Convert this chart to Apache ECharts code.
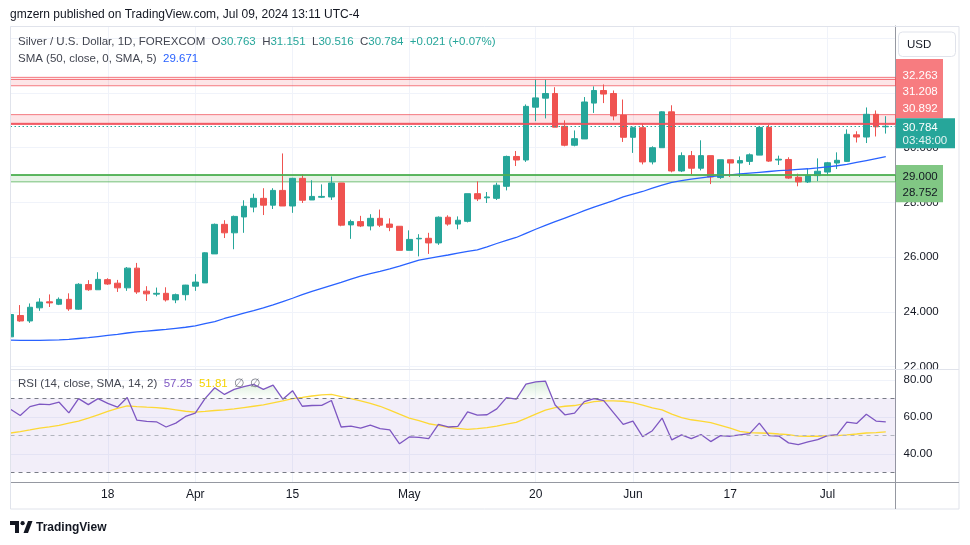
<!DOCTYPE html>
<html><head><meta charset="utf-8">
<script src="https://cdn.jsdelivr.net/npm/echarts@6/dist/echarts.min.js"></script>
<style>html,body{margin:0;padding:0;background:#fff}#c{width:970px;height:545px}</style>
</head><body><div id="c"></div>
<script>
const dates = [
'2024-03-04','2024-03-05','2024-03-06','2024-03-07','2024-03-08','2024-03-11','2024-03-12','2024-03-13','2024-03-14','2024-03-15',
'2024-03-18','2024-03-19','2024-03-20','2024-03-21','2024-03-22','2024-03-25','2024-03-26','2024-03-27','2024-03-28',
'2024-04-01','2024-04-02','2024-04-03','2024-04-04','2024-04-05','2024-04-08','2024-04-09','2024-04-10','2024-04-11','2024-04-12',
'2024-04-15','2024-04-16','2024-04-17','2024-04-18','2024-04-19','2024-04-22','2024-04-23','2024-04-24','2024-04-25','2024-04-26',
'2024-04-29','2024-04-30','2024-05-01','2024-05-02','2024-05-03','2024-05-06','2024-05-07','2024-05-08','2024-05-09','2024-05-10',
'2024-05-13','2024-05-14','2024-05-15','2024-05-16','2024-05-17','2024-05-20','2024-05-21','2024-05-22','2024-05-23','2024-05-24',
'2024-05-27','2024-05-28','2024-05-29','2024-05-30','2024-05-31','2024-06-03','2024-06-04','2024-06-05','2024-06-06','2024-06-07',
'2024-06-10','2024-06-11','2024-06-12','2024-06-13','2024-06-14','2024-06-17','2024-06-18','2024-06-19','2024-06-20','2024-06-21',
'2024-06-24','2024-06-25','2024-06-26','2024-06-27','2024-06-28','2024-07-01','2024-07-02','2024-07-03','2024-07-04','2024-07-05',
'2024-07-08','2024-07-09'];
const open = [23.09,23.87,23.67,24.15,24.37,24.28,24.46,24.10,25.00,24.81,
25.18,25.05,24.88,25.60,24.76,24.65,24.68,24.44,24.63,
24.94,25.06,26.12,27.20,26.89,27.47,27.83,28.15,27.90,28.44,
27.87,28.88,28.09,28.19,28.20,28.71,27.18,27.30,27.14,27.42,
27.21,27.13,26.25,26.67,26.69,26.52,27.46,27.21,27.31,28.32,
28.17,28.15,28.59,29.68,29.55,31.48,31.81,31.98,30.78,30.09,
30.32,31.63,32.09,31.98,31.19,30.38,30.73,29.48,30.00,31.31,
29.15,29.71,29.25,29.71,28.91,29.56,29.44,29.50,29.73,30.74,
29.55,29.57,28.92,28.75,28.98,29.11,29.44,29.50,30.47,30.39,
31.22,30.763];
const close = [23.905,23.67,24.17,24.36,24.33,24.46,24.11,25.01,24.81,25.19,
25.02,24.88,25.60,24.73,24.66,24.68,24.44,24.63,24.98,
25.09,26.16,27.20,26.89,27.49,27.86,28.15,27.90,28.44,27.87,
28.88,28.08,28.22,28.22,28.71,27.17,27.30,27.14,27.42,27.17,
27.09,26.25,26.65,26.69,26.52,27.46,27.21,27.35,28.32,28.13,
28.20,28.63,29.68,29.55,31.51,31.82,31.98,30.75,30.09,30.33,
31.67,32.09,31.96,31.16,30.38,30.73,29.48,30.00,31.31,29.15,
29.71,29.25,29.71,28.93,29.56,29.44,29.53,29.74,30.74,29.51,
29.58,28.89,28.75,28.98,29.14,29.45,29.54,30.49,30.39,31.22,
30.763,30.784];
const low = [23.07,23.64,23.60,24.04,24.18,24.25,24.04,24.08,24.77,24.81,
24.99,24.73,24.77,24.66,24.40,24.57,24.38,24.32,24.42,
24.77,25.06,26.12,26.70,26.29,26.89,27.64,27.54,27.76,27.87,
27.62,27.98,28.09,28.16,28.09,27.13,26.67,27.10,26.98,27.10,
26.95,26.25,26.25,26.03,26.12,26.45,27.15,27.02,27.27,28.05,
27.98,28.09,28.44,29.33,29.48,30.97,31.07,30.75,30.05,30.05,
30.32,31.27,31.63,31.00,30.21,29.81,29.39,29.39,30.00,29.10,
29.11,29.03,29.17,28.67,28.86,28.93,28.93,29.37,29.73,29.48,
29.37,28.86,28.59,28.71,28.78,28.98,29.22,29.48,30.19,30.17,
30.41,30.516];
const high = [23.92,24.25,24.31,24.50,24.64,24.53,24.68,25.05,25.16,25.45,
25.23,25.17,25.64,25.79,24.94,24.89,24.90,24.67,24.99,
25.38,26.18,27.23,27.35,27.52,28.08,28.32,28.52,28.52,29.79,
28.90,29.03,28.81,28.66,28.95,28.71,27.37,27.51,27.57,27.74,
27.42,27.13,26.98,26.84,26.89,27.49,27.53,27.49,28.32,28.77,
28.38,28.72,29.71,29.88,31.58,32.48,32.48,32.21,31.00,30.63,
31.85,32.24,32.31,32.09,31.76,30.77,30.88,30.05,31.33,31.55,
29.83,29.88,30.27,29.71,29.56,29.56,29.68,29.79,30.74,30.84,
29.71,29.65,29.05,29.23,29.61,29.48,29.83,30.67,30.60,31.47,
31.36,31.151];
const sma50 = [22.97,22.96,22.96,22.96,22.97,22.98,23.00,23.03,23.06,23.10,
23.14,23.18,23.23,23.27,23.30,23.33,23.36,23.40,23.44,
23.49,23.57,23.65,23.76,23.86,23.96,24.05,24.15,24.26,24.38,
24.50,24.63,24.75,24.86,24.97,25.08,25.20,25.31,25.40,25.48,
25.57,25.67,25.78,25.89,25.96,26.02,26.08,26.15,26.21,26.27,
26.38,26.50,26.61,26.72,26.87,27.02,27.16,27.30,27.43,27.56,
27.70,27.83,27.95,28.07,28.20,28.30,28.40,28.52,28.63,28.73,
28.80,28.85,28.90,28.94,28.98,29.01,29.04,29.07,29.10,29.13,
29.16,29.18,29.21,29.23,29.26,29.30,29.34,29.39,29.46,29.53,
29.60,29.671];
const rsi = [64.1,60.7,65.5,66.8,66.6,67.9,62.1,69.8,66.6,69.8,
67.3,65.2,70.4,58.2,57.5,57.3,54.5,56.6,60.2,
62.0,69.8,75.7,72.1,74.8,76.3,77.5,74.8,77.1,69.5,
74.1,65.7,66.1,66.2,68.8,54.5,55.0,53.9,55.5,53.6,
52.9,45.4,49.1,48.9,48.2,55.9,54.5,54.8,62.7,60.9,
61.1,64.3,70.4,69.5,77.7,78.9,79.3,66.4,61.1,62.0,
68.2,69.8,68.75,62.3,55.9,57.7,49.3,52.5,59.3,47.5,
50.2,48.2,50.4,46.6,49.8,49.5,50.2,50.9,56.6,49.8,
49.6,45.9,45.0,46.4,47.7,49.8,50.4,57.1,56.4,61.4,
57.7,57.25];
const rsiMA = [51.25,52.0,52.9,53.9,54.6,55.4,56.6,57.7,59.3,61.1,
62.9,64.5,65.9,65.5,65.2,65.0,64.5,63.75,63.0,
62.5,62.9,63.4,63.75,64.3,65.0,65.7,66.4,67.5,68.6,
69.8,70.5,71.25,71.8,72.1,70.9,69.8,68.6,67.3,65.7,
63.6,61.4,59.3,57.9,56.25,55.4,54.3,53.75,53.2,53.6,
54.1,55.0,56.1,57.0,59.1,61.4,63.6,65.0,65.7,66.1,
67.1,68.2,68.6,68.6,68.4,67.7,66.25,64.8,63.75,61.4,
59.5,58.4,57.7,56.8,55.4,53.9,52.1,51.4,51.25,51.1,
50.7,50.4,49.6,49.5,49.5,49.8,49.8,50.2,50.7,51.25,
51.5,51.81];
const tickDates = ['2024-03-18','2024-04-01','2024-04-15','2024-05-01','2024-05-20','2024-06-03','2024-06-17','2024-07-01'];
const tickTexts = ['18','Apr','15','May','20','Jun','17','Jul'];
const redZoneLow = [31.208, 30.892];
const redZoneHigh = [32.570, 32.263];
const redExtraLine = 32.50;
const greenZone = [29.000, 28.752];
const rsiLevels = [70, 50, 30];

const F = '"Liberation Sans", Arial, sans-serif';
const AX = '#9598a1', FR = '#e0e3eb', GRID = '#f0f3fa', TXT = '#131722';
const UP = '#26a69a', DN = '#ef5350';
const n = dates.length;
const cats = dates.concat(['']);
const tickIdx = new Set(tickDates.map(d => dates.indexOf(d)));
const tickFn = (i) => tickIdx.has(i);
const last = n - 1;
const chg = close[last] - close[last - 1];
const pct = chg / close[last - 1] * 100;
const sgn = v => (v >= 0 ? '+' : '') + v;

const chart = echarts.init(document.getElementById('c'), null, {renderer: 'canvas'});
const lvl = (y, color, width, type) => ({yAxis: y, lineStyle: {color, width, type: type || 'solid'}});

const option = {
  animation: false,
  backgroundColor: '#fff',
  grid: [
    {left: 10.5, top: 26, width: 885, height: 343, outerBoundsMode: 'none'},
    {left: 10.5, top: 369, width: 885, height: 113.5, outerBoundsMode: 'none'},
    {left: 10.5, top: 369, width: 885, height: 29.3, outerBoundsMode: 'none'}
  ],
  xAxis: [
    {type: 'category', gridIndex: 0, data: cats, boundaryGap: false,
     axisLine: {show: false}, axisTick: {show: false}, axisLabel: {show: false},
     splitLine: {show: true, interval: tickFn, lineStyle: {color: GRID, width: 1}}},
    {type: 'category', gridIndex: 1, data: cats, boundaryGap: false,
     axisLine: {show: true, lineStyle: {color: AX, width: 1}}, axisTick: {show: false},
     axisLabel: {show: true, interval: tickFn, color: TXT, fontSize: 12, fontFamily: F, margin: 6,
       formatter: v => { const k = tickDates.indexOf(v); return k >= 0 ? tickTexts[k] : ''; }},
     splitLine: {show: true, interval: tickFn, lineStyle: {color: GRID, width: 1}}},
    {type: 'category', gridIndex: 2, data: cats, boundaryGap: false, show: false}
  ],
  yAxis: [
    {type: 'value', gridIndex: 0, position: 'right', min: 21.915, max: 34.446, splitNumber: 6, scale: true,
     axisLine: {show: true, lineStyle: {color: AX, width: 1}}, axisTick: {show: false},
     axisLabel: {showMinLabel: false, showMaxLabel: false, color: TXT, fontSize: 11.5, fontFamily: F, margin: 8,
       formatter: v => v.toFixed(3)},
     splitLine: {show: true, lineStyle: {color: GRID, width: 1}}},
    {type: 'value', gridIndex: 1, position: 'right', min: 24.49, max: 85.84, splitNumber: 3, scale: true,
     axisLine: {show: true, lineStyle: {color: AX, width: 1}}, axisTick: {show: false},
     axisLabel: {showMinLabel: false, showMaxLabel: false, color: TXT, fontSize: 11.5, fontFamily: F, margin: 8,
       formatter: v => v.toFixed(2)},
     splitLine: {show: true, lineStyle: {color: GRID, width: 1}}},
    {type: 'value', gridIndex: 2, min: 70, max: 85.84, show: false, scale: true}
  ],
  series: [
    {type: 'candlestick', name: 'XAGUSD', xAxisIndex: 0, yAxisIndex: 0, barWidth: 6.2, clip: true,
     data: dates.map((d, i) => [open[i], close[i], low[i], high[i]]),
     itemStyle: {color: UP, color0: DN, borderColor: UP, borderColor0: DN, borderWidth: 1},
     markArea: {silent: true, label: {show: false},
       data: [
         [{yAxis: redZoneHigh[0], itemStyle: {color: 'rgba(242,54,69,0.13)', borderColor: 'rgba(240,80,90,0.75)', borderWidth: 1}}, {yAxis: redZoneHigh[1]}],
         [{yAxis: redZoneLow[0], itemStyle: {color: 'rgba(242,54,69,0.13)', borderColor: 'rgba(240,80,90,0.75)', borderWidth: 1}}, {yAxis: redZoneLow[1]}],
         [{yAxis: greenZone[0], itemStyle: {color: 'rgba(76,175,80,0.14)', borderColor: 'rgba(76,175,80,0.75)', borderWidth: 1}}, {yAxis: greenZone[1]}]
       ]},
     markLine: {silent: true, symbol: ['none', 'none'], label: {show: false},
       data: [
         lvl(redExtraLine, 'rgba(240,80,90,0.75)', 1),
         lvl(redZoneLow[1], 'rgba(240,80,90,0.85)', 2),
         lvl(greenZone[0], 'rgba(76,175,80,0.85)', 2),
         lvl(close[last], UP, 1, [1.5, 2.5])
       ]}},
    {type: 'line', name: 'SMA', xAxisIndex: 0, yAxisIndex: 0, data: sma50, symbol: 'none',
     lineStyle: {color: '#2962ff', width: 1.3}, z: 3},
    {type: 'line', name: 'OB', xAxisIndex: 2, yAxisIndex: 2, data: rsi, symbol: 'none', clip: true,
     lineStyle: {opacity: 0, width: 0},
     areaStyle: {origin: 'start', color: new echarts.graphic.LinearGradient(0, 376, 0, 398.3,
       [{offset: 0, color: 'rgba(76,175,80,0.38)'}, {offset: 1, color: 'rgba(76,175,80,0.02)'}], true)}},
    {type: 'line', name: 'RSI', xAxisIndex: 1, yAxisIndex: 1, data: rsi, symbol: 'none',
     lineStyle: {color: '#7e57c2', width: 1.3}, z: 4,
     markArea: {silent: true, data: [[{yAxis: rsiLevels[0], itemStyle: {color: 'rgba(126,87,194,0.1)'}}, {yAxis: rsiLevels[2]}]]},
     markLine: {silent: true, symbol: ['none', 'none'], label: {show: false},
       data: [lvl(rsiLevels[0], '#787b86', 1, [4, 4]), lvl(rsiLevels[1], '#b2b5be', 1, [4, 4]), lvl(rsiLevels[2], '#787b86', 1, [4, 4])]}},
    {type: 'line', name: 'RSI MA', xAxisIndex: 1, yAxisIndex: 1, data: rsiMA, symbol: 'none',
     lineStyle: {color: '#fdd835', width: 1.3}, z: 3}
  ],
  graphic: [
    {type: 'text', x: 10, y: 15, z: 100, style: {text: 'gmzern published on TradingView.com, Jul 09, 2024 13:11 UTC-4', font: '12px ' + F, fill: TXT, verticalAlign: 'middle'}},
    {type: 'rect', z: 98, silent: true, shape: {x: 0, y: 27, width: 10, height: 342}, style: {fill: '#fff'}},
    {type: 'rect', z: 100, silent: true, shape: {x: 10.5, y: 26.5, width: 948.5, height: 482.5}, style: {fill: 'none', stroke: FR, lineWidth: 1}},
    {type: 'rect', z: 99, silent: true, shape: {x: 896.5, y: 369.5, width: 62, height: 4.2}, style: {fill: '#fff'}},
    {type: 'line', z: 100, silent: true, shape: {x1: 10.5, y1: 369.5, x2: 959, y2: 369.5}, style: {stroke: FR, lineWidth: 1}},
    {type: 'line', z: 100, silent: true, shape: {x1: 895.5, y1: 482.5, x2: 959, y2: 482.5}, style: {stroke: AX, lineWidth: 1}},
    {type: 'line', z: 100, silent: true, shape: {x1: 895.5, y1: 482.5, x2: 895.5, y2: 509}, style: {stroke: AX, lineWidth: 1}},
    // price scale labels
    {type: 'rect', z: 100, shape: {x: 896, y: 59, width: 47, height: 59.3}, style: {fill: '#f77c80'}},
    {type: 'text', z: 101, x: 902.5, y: 75.5, style: {text: redZoneHigh[1].toFixed(3), font: '11.5px ' + F, fill: '#fff', verticalAlign: 'middle'}},
    {type: 'text', z: 101, x: 902.5, y: 92, style: {text: redZoneLow[0].toFixed(3), font: '11.5px ' + F, fill: '#fff', verticalAlign: 'middle'}},
    {type: 'text', z: 101, x: 902.5, y: 109, style: {text: redZoneLow[1].toFixed(3), font: '11.5px ' + F, fill: '#fff', verticalAlign: 'middle'}},
    {type: 'rect', z: 100, shape: {x: 896, y: 118.3, width: 59, height: 30}, style: {fill: UP}},
    {type: 'text', z: 101, x: 902.5, y: 127.5, style: {text: close[last].toFixed(3), font: '11.5px ' + F, fill: '#fff', verticalAlign: 'middle'}},
    {type: 'text', z: 101, x: 902.5, y: 140.5, style: {text: '03:48:00', font: '11.5px ' + F, fill: 'rgba(255,255,255,0.88)', verticalAlign: 'middle'}},
    {type: 'rect', z: 100, shape: {x: 896, y: 165, width: 47, height: 37.3}, style: {fill: '#81c784'}},
    {type: 'text', z: 101, x: 902.5, y: 176.5, style: {text: greenZone[0].toFixed(3), font: '11.5px ' + F, fill: TXT, verticalAlign: 'middle'}},
    {type: 'text', z: 101, x: 902.5, y: 193, style: {text: greenZone[1].toFixed(3), font: '11.5px ' + F, fill: TXT, verticalAlign: 'middle'}},
    {type: 'rect', z: 102, shape: {x: 898.5, y: 32, width: 57, height: 24.5, r: 4}, style: {fill: '#fff', stroke: FR, lineWidth: 1}},
    {type: 'text', z: 103, x: 907, y: 44.5, style: {text: 'USD', font: '11.5px ' + F, fill: TXT, verticalAlign: 'middle'}},
    // legends
    {type: 'text', z: 100, x: 18, y: 42, style: {
      text: '{t|Silver / U.S. Dollar, 1D, FOREXCOM}  {k|O}{v|' + open[last].toFixed(3) + '}  {k|H}{v|' + high[last].toFixed(3) + '}  {k|L}{v|' + low[last].toFixed(3) + '}  {k|C}{v|' + close[last].toFixed(3) + '}  {v|' + sgn(chg.toFixed(3)) + ' (' + sgn(pct.toFixed(2)) + '%)}',
      font: '11.5px ' + F, verticalAlign: 'middle',
      rich: {t: {fill: '#434651', font: '11.5px ' + F}, k: {fill: '#434651', font: '11.5px ' + F}, v: {fill: UP, font: '11.5px ' + F}}}},
    {type: 'text', z: 100, x: 18, y: 59, style: {
      text: '{t|SMA (50, close, 0, SMA, 5)}  {b|' + sma50[last].toFixed(3) + '}',
      font: '11.5px ' + F, verticalAlign: 'middle',
      rich: {t: {fill: '#434651', font: '11.5px ' + F}, b: {fill: '#2962ff', font: '11.5px ' + F}}}},
    {type: 'text', z: 100, x: 18, y: 384, style: {
      text: '{t|RSI (14, close, SMA, 14, 2)}  {p|' + rsi[last].toFixed(2) + '}  {y|' + rsiMA[last].toFixed(2) + '}  {g|\u2205  \u2205}',
      font: '11.5px ' + F, verticalAlign: 'middle',
      rich: {t: {fill: '#434651', font: '11.5px ' + F}, p: {fill: '#7e57c2', font: '11.5px ' + F}, y: {fill: '#f5d300', font: '11.5px ' + F}, g: {fill: '#787b86', font: '11.5px ' + F}}}},
    // logo
    {type: 'polygon', z: 100, shape: {points: [[10, 521], [19, 521], [19, 533], [15, 533], [15, 525], [10, 525]]}, style: {fill: TXT}},
    {type: 'circle', z: 100, shape: {cx: 22.6, cy: 523.2, r: 2.1}, style: {fill: TXT}},
    {type: 'polygon', z: 100, shape: {points: [[23.5, 533], [28, 521], [32.5, 521], [28, 533]]}, style: {fill: TXT}},
    {type: 'text', z: 100, x: 36, y: 527.5, style: {text: 'TradingView', font: 'bold 12px ' + F, fill: TXT, verticalAlign: 'middle'}}
  ]
};
chart.setOption(option);
</script>
</body></html>
